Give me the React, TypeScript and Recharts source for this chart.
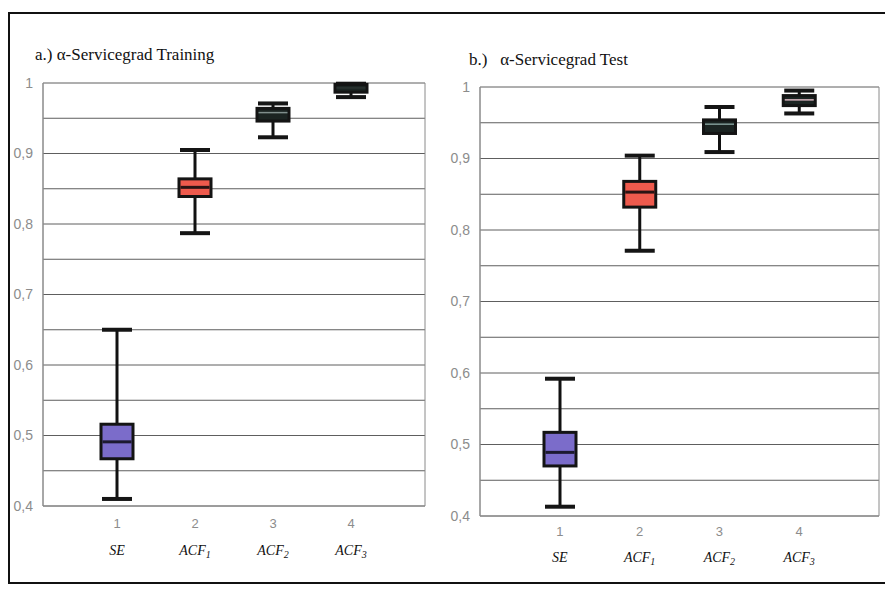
import React from "react";
import { ComposedChart, Bar, XAxis, YAxis, CartesianGrid } from "recharts";

const categories = ["1", "2", "3", "4"];
const labelBase = ["SE", "ACF", "ACF", "ACF"];
const labelSub = ["", "1", "2", "3"];

const trainMin = [0.41, 0.787, 0.923, 0.98];
const trainQ1 = [0.467, 0.839, 0.946, 0.987];
const trainMed = [0.491, 0.852, 0.958, 0.993];
const trainQ3 = [0.516, 0.864, 0.964, 0.998];
const trainMax = [0.65, 0.905, 0.971, 0.999];

const testMin = [0.413, 0.771, 0.909, 0.963];
const testQ1 = [0.47, 0.832, 0.935, 0.974];
const testMed = [0.489, 0.853, 0.948, 0.982];
const testQ3 = [0.517, 0.868, 0.954, 0.988];
const testMax = [0.592, 0.904, 0.972, 0.995];

const yTicks = [0.4, 0.45, 0.5, 0.55, 0.6, 0.65, 0.7, 0.75, 0.8, 0.85, 0.9, 0.95, 1];
const yLabelTicks = [0.4, 0.5, 0.6, 0.7, 0.8, 0.9, 1];

// styles (kept apart from data)
const boxFill = ["#7b6cca", "#ee5a4d", "#1b2422", "#1b2422"];
const medColorTrain = ["#1d1a30", "#2a1414", "#7f8e8c", "#2a3331"];
const medColorTest = ["#1d1a30", "#2a1414", "#7f9a96", "#d8b4bd"];

function build(mins: number[], q1: number[], med: number[], q3: number[], maxs: number[]) {
  return categories.map((c, i) => ({
    cat: c,
    idx: i,
    whisker: [mins[i], maxs[i]],
    box: [q1[i], q3[i]],
    q1: q1[i],
    q3: q3[i],
    med: med[i],
  }));
}

const trainData = build(trainMin, trainQ1, trainMed, trainQ3, trainMax);
const testData = build(testMin, testQ1, testMed, testQ3, testMax);

const fmt = (v: number) =>
  yLabelTicks.some((t) => Math.abs(t - v) < 1e-9) ? (v === 1 ? "1" : v.toFixed(1).replace(".", ",")) : "";

const frameEdges = (p: any) => [p.offset.left, p.offset.left + p.offset.width];

const WhiskerShape = (props: any) => {
  const { x, y, width, height } = props;
  const top = Math.min(y, y + height);
  const h = Math.abs(height);
  const cx = x + width / 2;
  return (
    <g>
      <line x1={cx} x2={cx} y1={top} y2={top + h} stroke="#111" strokeWidth={3} />
      <line x1={x} x2={x + width} y1={top} y2={top} stroke="#151515" strokeWidth={4} />
      <line x1={x} x2={x + width} y1={top + h} y2={top + h} stroke="#151515" strokeWidth={4} />
    </g>
  );
};

const makeBoxShape = (medColors: string[]) => (props: any) => {
  const { x, y, width, height, payload } = props;
  const top = Math.min(y, y + height);
  const h = Math.abs(height);
  const i = payload.idx;
  const my = top + (h * (payload.q3 - payload.med)) / (payload.q3 - payload.q1);
  return (
    <g>
      <rect x={x} y={top} width={width} height={h} fill={boxFill[i]} stroke="#141414" strokeWidth={3} />
      <line x1={x + 1.5} x2={x + width - 1.5} y1={my} y2={my} stroke={medColors[i]} strokeWidth={i < 2 ? 3 : 1.5} />
    </g>
  );
};

const makeTick = (numDy: number, labDy: number) => (props: any) => {
  const { x, y, payload, index } = props;
  const i = index ?? categories.indexOf(payload.value);
  return (
    <g>
      <text x={x} y={y + numDy} textAnchor="middle" fill="#8c8c8c" fontSize={13} fontFamily="Liberation Sans, Arial, sans-serif">
        {payload.value}
      </text>
      <text x={x} y={y + labDy} textAnchor="middle" fill="#111" fontSize={14} fontStyle="italic" fontFamily="Liberation Serif, Times New Roman, serif">
        {labelBase[i]}
        {labelSub[i] ? (
          <tspan fontSize={10} dy={3}>
            {labelSub[i]}
          </tspan>
        ) : null}
      </text>
    </g>
  );
};

function Panel(props: {
  data: any[];
  width: number;
  height: number;
  margin: any;
  yWidth: number;
  pad: number;
  medColors: string[];
  numDy: number;
  labDy: number;
}) {
  const { data, width, height, margin, yWidth, pad, medColors, numDy, labDy } = props;
  return (
    <ComposedChart width={width} height={height} data={data} margin={margin}>
      <CartesianGrid xAxisId="a" yAxisId="l" vertical={false} stroke="#5e5e5e" strokeWidth={1} />
      <CartesianGrid
        xAxisId="a"
        yAxisId="l"
        horizontal={false}
        verticalCoordinatesGenerator={frameEdges}
        stroke="#8a8a8a"
        strokeWidth={1}
      />
      <XAxis
        xAxisId="a"
        dataKey="cat"
        type="category"
        padding={{ left: pad, right: pad }}
        axisLine={{ stroke: "#8a8a8a" }}
        tickLine={false}
        height={60}
        interval={0}
        tick={makeTick(numDy, labDy)}
      />
      <XAxis xAxisId="b" dataKey="cat" type="category" padding={{ left: pad, right: pad }} hide />
      <YAxis
        yAxisId="l"
        domain={[0.4, 1]}
        ticks={yTicks}
        type="number"
        width={yWidth}
        tickFormatter={fmt}
        axisLine={{ stroke: "#8a8a8a" }}
        tickLine={false}
        tickMargin={4}
        tick={{ fill: "#8c8c8c", fontSize: 14, fontFamily: "Liberation Sans, Arial, sans-serif" }}
        interval={0}
      />
      <Bar xAxisId="a" yAxisId="l" dataKey="whisker" barSize={30} shape={WhiskerShape} isAnimationActive={false} />
      <Bar xAxisId="b" yAxisId="l" dataKey="box" barSize={32} shape={makeBoxShape(medColors)} isAnimationActive={false} />
    </ComposedChart>
  );
}

export default function App() {
  return (
    <div
      style={{
        position: "absolute",
        left: 0,
        top: 0,
        width: 885,
        height: 597,
        overflow: "hidden",
        background: "#fff",
      }}
    >
      <div
        style={{
          position: "absolute",
          left: 8,
          top: 12,
          width: 900,
          height: 572,
          border: "2px solid #111",
          boxSizing: "border-box",
        }}
      />
      <div
        style={{
          position: "absolute",
          left: 35,
          top: 45,
          fontFamily: "Liberation Serif, Times New Roman, serif",
          fontSize: 17,
          color: "#111",
          whiteSpace: "nowrap",
        }}
      >
        a.) α-Servicegrad Training
      </div>
      <div
        style={{
          position: "absolute",
          left: 469,
          top: 50,
          fontFamily: "Liberation Serif, Times New Roman, serif",
          fontSize: 17,
          color: "#111",
          whiteSpace: "pre",
        }}
      >
        {"b.)   α-Servicegrad Test"}
      </div>
      <div style={{ position: "absolute", left: 0, top: 0 }}>
        <Panel
          data={trainData}
          width={440}
          height={597}
          margin={{ top: 83, right: 15, bottom: 31, left: 3 }}
          yWidth={40}
          pad={35}
          medColors={medColorTrain}
          numDy={14}
          labDy={41}
        />
      </div>
      <div style={{ position: "absolute", left: 440, top: 0 }}>
        <Panel
          data={testData}
          width={445}
          height={597}
          margin={{ top: 87, right: 6, bottom: 21, left: 4 }}
          yWidth={36}
          pad={40}
          medColors={medColorTest}
          numDy={12}
          labDy={38}
        />
      </div>
    </div>
  );
}
